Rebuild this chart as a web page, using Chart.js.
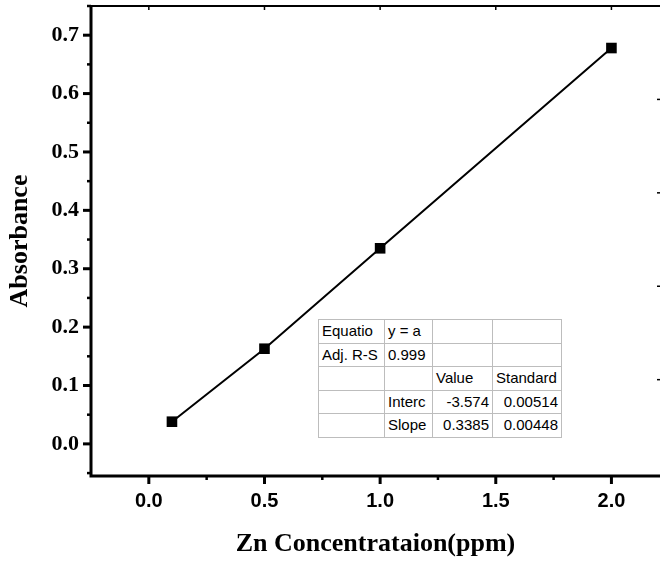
<!DOCTYPE html>
<html>
<head>
<meta charset="utf-8">
<script src="https://cdn.jsdelivr.net/npm/chart.js@4/dist/chart.umd.min.js"></script>
<style>
  html, body { margin: 0; padding: 0; background: #fff; }
  #wrap { position: relative; width: 660px; height: 561px; overflow: hidden; }
  #fit {
    position: absolute; left: 318px; top: 319px;
    border-collapse: collapse; table-layout: fixed;
    font-family: 'Liberation Sans', Arial, sans-serif; font-size: 15px; color: #000;
    background: #fff; border: 1.5px solid #555;
  }
  #fit td {
    border: 1px solid #bdbdbd; height: 22.5px; padding: 0 3px;
    white-space: nowrap; overflow: hidden; line-height: 22px;
  }
  #fit td.num { text-align: right; }
</style>
</head>
<body>
<div id="wrap">
  <canvas id="chart" width="660" height="561"></canvas>
  <table id="fit"></table>
</div>
<script>
// calibration data
const concentration = [0.1, 0.5, 1.0, 2.0];
const absorbance = [0.038, 0.163, 0.335, 0.678];

const xTicks = [0.0, 0.5, 1.0, 1.5, 2.0];
const xMinorTicks = [-0.25, 0.25, 0.75, 1.25, 1.75];
const yTicks = [0.0, 0.1, 0.2, 0.3, 0.4, 0.5, 0.6, 0.7];
const yMinorTicks = [-0.05, 0.05, 0.15, 0.25, 0.35, 0.45, 0.55, 0.65, 0.75];
const rightTicks = [0.11, 0.27, 0.43, 0.59];

// fit-result table, as shown (cells clipped like in the original)
const fitColWidths = [66, 48, 60, 69];
const fitRows = [
  ['Equatio', 'y = a', '', ''],
  ['Adj. R-S', '0.999', '', ''],
  ['', '', 'Value', 'Standard'],
  ['', 'Interc', '-3.574', '0.00514'],
  ['', 'Slope', '0.3385', '0.00448']
];

// build table
const table = document.getElementById('fit');
const cg = document.createElement('colgroup');
fitColWidths.forEach(w => {
  const c = document.createElement('col');
  c.style.width = w + 'px';
  cg.appendChild(c);
});
table.appendChild(cg);
fitRows.forEach(row => {
  const tr = document.createElement('tr');
  row.forEach(txt => {
    const td = document.createElement('td');
    td.textContent = txt;
    if (/^-?\d/.test(txt) && txt !== '0.999') td.className = 'num';
    tr.appendChild(td);
  });
  table.appendChild(tr);
});

const serifBold = { family: "'Liberation Serif', 'Times New Roman', serif", weight: 'bold' };
const sansBold = { family: "'Liberation Sans', Arial, sans-serif", weight: 'bold' };

// axis frame and tick marks (Origin style)
const framePlugin = {
  id: 'frame',
  afterDraw(chart) {
    const { ctx, chartArea: a, scales: { x, y } } = chart;
    ctx.save();
    ctx.strokeStyle = '#000';
    ctx.lineCap = 'butt';

    // top line
    ctx.lineWidth = 2;
    ctx.beginPath();
    ctx.moveTo(a.left, a.top);
    ctx.lineTo(a.right, a.top);
    ctx.stroke();

    // left and bottom axes
    ctx.lineWidth = 3;
    ctx.beginPath();
    ctx.moveTo(a.left, a.top - 1);
    ctx.lineTo(a.left, a.bottom + 1.5);
    ctx.moveTo(a.left - 1.5, a.bottom);
    ctx.lineTo(a.right, a.bottom);
    ctx.stroke();

    // left ticks, outward
    yTicks.forEach(v => {
      const p = y.getPixelForValue(v);
      ctx.lineWidth = 3;
      ctx.beginPath(); ctx.moveTo(a.left, p); ctx.lineTo(a.left - 8, p); ctx.stroke();
    });
    yMinorTicks.forEach(v => {
      const p = y.getPixelForValue(v);
      if (p < a.top - 1 || p > a.bottom) return;
      ctx.lineWidth = 2.5;
      ctx.beginPath(); ctx.moveTo(a.left, p); ctx.lineTo(a.left - 4, p); ctx.stroke();
    });

    // bottom ticks, outward
    xTicks.forEach(v => {
      const p = x.getPixelForValue(v);
      ctx.lineWidth = 3;
      ctx.beginPath(); ctx.moveTo(p, a.bottom); ctx.lineTo(p, a.bottom + 8); ctx.stroke();
    });
    xMinorTicks.forEach(v => {
      const p = x.getPixelForValue(v);
      if (p < a.left + 2) return;
      ctx.lineWidth = 2.5;
      ctx.beginPath(); ctx.moveTo(p, a.bottom); ctx.lineTo(p, a.bottom + 4); ctx.stroke();
    });

    // top ticks, inward
    xTicks.forEach(v => {
      const p = x.getPixelForValue(v);
      ctx.lineWidth = 1.5;
      ctx.beginPath(); ctx.moveTo(p, a.top); ctx.lineTo(p, a.top + 4); ctx.stroke();
    });

    // right ticks, inward
    rightTicks.forEach(v => {
      const p = y.getPixelForValue(v);
      ctx.lineWidth = 1.5;
      ctx.beginPath(); ctx.moveTo(a.right, p); ctx.lineTo(a.right - 3, p); ctx.stroke();
    });
    ctx.restore();
  }
};

new Chart(document.getElementById('chart'), {
  type: 'line',
  data: {
    datasets: [{
      data: concentration.map((c, i) => ({ x: c, y: absorbance[i] })),
      borderColor: '#000',
      backgroundColor: '#000',
      borderWidth: 2,
      pointStyle: 'rect',
      pointRadius: 7.5,
      pointBorderWidth: 0,
      tension: 0,
      fill: false
    }]
  },
  options: {
    responsive: false,
    animation: false,
    events: [],
    layout: { autoPadding: false, padding: { top: 6, right: 0, left: 0, bottom: 0 } },
    plugins: { legend: { display: false }, tooltip: { enabled: false } },
    scales: {
      x: {
        type: 'linear',
        min: -0.25,
        max: 2.21,
        afterFit: s => { s.height = 85; s.paddingLeft = 0; s.paddingRight = 0; },
        afterBuildTicks: s => { s.ticks = xTicks.map(v => ({ value: v })); },
        grid: { display: false, drawTicks: false },
        border: { display: false },
        ticks: {
          padding: 13,
          color: '#000',
          font: { ...sansBold, size: 20 },
          callback: v => v.toFixed(1)
        },
        title: {
          display: true,
          text: 'Zn Concentrataion(ppm)',
          color: '#000',
          font: { ...serifBold, size: 26 },
          padding: { top: 0, bottom: 1 }
        }
      },
      y: {
        min: -0.055,
        max: 0.75,
        afterFit: s => { s.width = 91; s.paddingTop = 0; s.paddingBottom = 0; },
        afterBuildTicks: s => { s.ticks = yTicks.map(v => ({ value: v })); },
        grid: { display: false, drawTicks: false },
        border: { display: false },
        ticks: {
          padding: 12,
          color: '#000',
          font: { ...serifBold, size: 22 },
          callback: v => v.toFixed(1)
        },
        title: {
          display: true,
          text: 'Absorbance',
          color: '#000',
          font: { ...serifBold, size: 26 },
          padding: { top: 5, bottom: 0 }
        }
      }
    }
  },
  plugins: [framePlugin]
});
</script>
</body>
</html>
